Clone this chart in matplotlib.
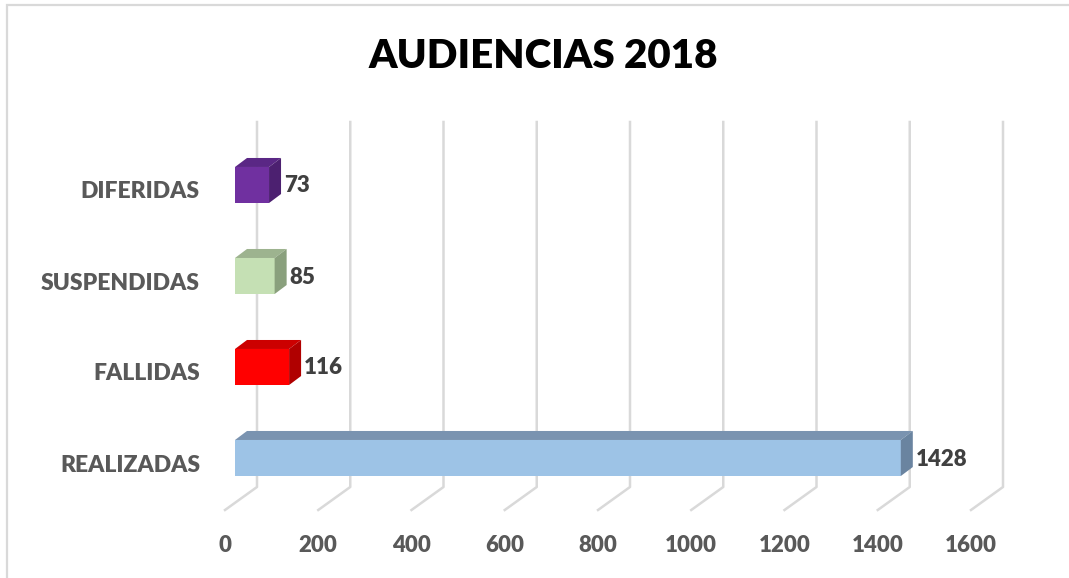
import matplotlib.pyplot as plt
from matplotlib.patches import Polygon
from matplotlib.transforms import IdentityTransform

categorias = ['REALIZADAS', 'FALLIDAS', 'SUSPENDIDAS', 'DIFERIDAS']
valores = [1428, 116, 85, 73]
ticks = [0, 200, 400, 600, 800, 1000, 1200, 1400, 1600]

# colores: frente, techo, lado
frente = ['#9DC3E6', '#FF0000', '#C5E0B4', '#7030A0']
techo = ['#7A93B0', '#CC0000', '#9DB38F', '#5A2785']
lado = ['#6A84A0', '#B00000', '#8AA07D', '#4C2070']

plt.rcParams['font.family'] = ['Lato', 'DejaVu Sans']

W, H = 1069, 578
fig = plt.figure(figsize=(W / 100, H / 100), dpi=100)
ax = fig.add_axes([235 / W, (H - 503.5) / H, 746 / W, 364 / H])
ax.set_xlim(0, 1600)
ax.set_ylim(-0.5, 3.5)
ax.axis('off')

# borde del area del grafico
fig.patches.append(plt.Rectangle((6.5 / W, -0.1), 1.2, (H - 5.5) / H + 0.1,
                                 transform=fig.transFigure, fill=False,
                                 edgecolor='#D9D9D9', linewidth=1.6))

def px(x, y):
    return ax.transData.transform((x, y))

peso = 'heavy'
gris = '#D9D9D9'
y_top = H - 122
y_back = H - 487
y_front = H - 510
for t in ticks:
    x0 = px(t, 0)[0]
    ax.add_line(plt.Line2D([x0 + 22, x0 + 22, x0 - 10], [y_top, y_back, y_front],
                           transform=IdentityTransform(), color=gris, linewidth=1.8,
                           zorder=1, clip_on=False))
    fig.text((x0 - 10) / W, 33 / H, str(t), ha='center', va='center',
             fontsize=16, color='#595959', fontweight=peso)

alto = 0.396
dx, dy = 12, 9
ax.barh(range(len(valores)), valores, height=alto, color=frente, zorder=3)
for i, v in enumerate(valores):
    x0, y0 = px(0, i - alto / 2)
    x1, y1 = px(v, i + alto / 2)
    top = Polygon([(x0, y1), (x1, y1), (x1 + dx, y1 + dy), (x0 + dx, y1 + dy)],
                  closed=True, transform=IdentityTransform(), facecolor=techo[i],
                  edgecolor='none', zorder=4, clip_on=False)
    side = Polygon([(x1, y0), (x1 + dx, y0 + dy), (x1 + dx, y1 + dy), (x1, y1)],
                   closed=True, transform=IdentityTransform(), facecolor=lado[i],
                   edgecolor='none', zorder=4, clip_on=False)
    ax.add_patch(top)
    ax.add_patch(side)
    fig.text((x1 + 15) / W, ((y0 + y1) / 2 - 1) / H, str(v), ha='left', va='center',
             fontsize=16, color='#404040', fontweight=peso)
    fig.text(200 / W, ((y0 + y1) / 2 - 7) / H, categorias[i], ha='right', va='center',
             fontsize=16.5, color='#595959', fontweight=peso)

fig.text(543 / W, (H - 57) / H, 'AUDIENCIAS 2018', ha='center', va='center',
         fontsize=29, color='black', fontweight=peso)

fig.savefig('out.png', dpi=100)
